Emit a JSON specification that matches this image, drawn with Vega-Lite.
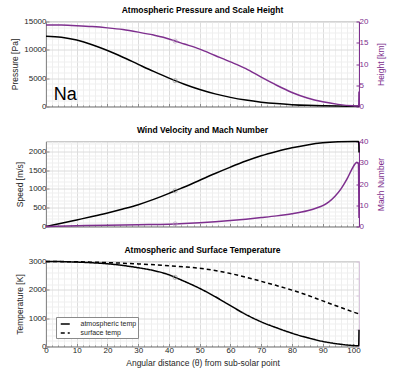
{
  "$schema": "https://vega.github.io/schema/vega-lite/v6.json",
  "padding": {"left": 10, "top": 5.5, "right": 5, "bottom": 5},
  "bounds": "flush",
  "spacing": 35,
  "resolve": {"scale": {"strokeDash": "independent"}, "legend": {"strokeDash": "independent"}},
  "config": {
    "font": "Liberation Sans",
    "view": {"stroke": "#a0a0a0", "strokeWidth": 0.8},
    "axis": {"labelFont": "Liberation Sans", "labelFontSize": 8, "labelColor": "#262626", "titleFont": "Liberation Sans", "titleFontSize": 8.5, "titleFontWeight": "normal", "titleColor": "#262626", "domainColor": "#8a8a8a", "tickColor": "#8a8a8a", "tickSize": -3, "labelPadding": 3, "titlePadding": 4, "labelFlush": false},
    "title": {"font": "Liberation Sans", "fontSize": 8.5, "fontWeight": "bold", "offset": 3, "color": "#000000"},
    "legend": {"labelFont": "Liberation Sans", "labelFontSize": 7, "labelColor": "#262626", "strokeColor": "#8a8a8a", "fillColor": "#ffffff", "padding": 1.5, "symbolType": "M-0.5,0H1.5", "symbolSize": 81, "symbolStrokeWidth": 1.5, "symbolStrokeColor": "#000000", "rowPadding": 0, "labelOffset": 12, "cornerRadius": 0}
  },
  "vconcat": [
    {
      "width": 313, "height": 85,
      "title": "Atmospheric Pressure and Scale Height",
      "encoding": {
        "x": {"field": "t", "type": "quantitative", "scale": {"domain": [0, 101.8], "nice": false, "zero": false},
          "axis": {"values": [0,2,4,6,8,10,12,14,16,18,20,22,24,26,28,30,32,34,36,38,40,42,44,46,48,50,52,54,56,58,60,62,64,66,68,70,72,74,76,78,80,82,84,86,88,90,92,94,96,98,100], "labels": false, "title": null, "grid": true,
            "gridColor": {"condition": {"test": "datum.value % 10 === 0", "value": "#dcdcdc"}, "value": "#efefef"},
            "tickSize": {"condition": {"test": "datum.value % 10 === 0", "value": -3}, "value": -1.5}}}
      },
      "layer": [
        {
          "data": {"values": [
            {"t": 0, "v": 12400}, {"t": 5, "v": 12230}, {"t": 10, "v": 11720}, {"t": 15, "v": 10910}, {"t": 20, "v": 9880}, {"t": 25, "v": 8700}, {"t": 30, "v": 7440}, {"t": 35, "v": 6190}, {"t": 40, "v": 5000}, {"t": 42, "v": 4560}, {"t": 45, "v": 3930}, {"t": 50, "v": 3000}, {"t": 55, "v": 2230}, {"t": 60, "v": 1610}, {"t": 65, "v": 1130}, {"t": 70, "v": 770}, {"t": 75, "v": 510}, {"t": 80, "v": 330}, {"t": 85, "v": 205}, {"t": 90, "v": 125}, {"t": 95, "v": 75}, {"t": 100, "v": 45}, {"t": 101.8, "v": 38}
          ]},
          "mark": {"type": "line", "color": "#000000", "strokeWidth": 1.5, "interpolate": "monotone"},
          "encoding": {"y": {"field": "v", "type": "quantitative", "scale": {"domain": [0, 15000], "nice": false},
            "axis": {"orient": "left", "title": "Pressure [Pa]", "format": "d", "values": [0,1000,2000,3000,4000,5000,6000,7000,8000,9000,10000,11000,12000,13000,14000,15000], "grid": true,
              "labelExpr": "datum.value % 5000 === 0 ? datum.label : ''",
              "gridColor": {"condition": {"test": "datum.value % 5000 === 0", "value": "#dcdcdc"}, "value": "#efefef"},
              "tickOpacity": {"condition": {"test": "datum.value % 5000 === 0", "value": 1}, "value": 0}}}}
        },
        {
          "data": {"values": [{"t": 42, "v": 4560}]},
          "mark": {"type": "point", "shape": "circle", "filled": false, "stroke": "#9a9a9a", "strokeWidth": 1, "size": 18},
          "encoding": {"y": {"field": "v", "type": "quantitative", "scale": {"domain": [0, 15000], "nice": false}, "axis": null}}
        },
        {
          "data": {"values": [
            {"t": 0, "v": 19.2}, {"t": 5, "v": 19.15}, {"t": 10, "v": 19.0}, {"t": 15, "v": 18.8}, {"t": 20, "v": 18.5}, {"t": 25, "v": 18.1}, {"t": 30, "v": 17.5}, {"t": 35, "v": 16.8}, {"t": 40, "v": 15.9}, {"t": 42, "v": 15.4}, {"t": 45, "v": 14.7}, {"t": 50, "v": 13.5}, {"t": 55, "v": 12.0}, {"t": 60, "v": 10.5}, {"t": 65, "v": 8.9}, {"t": 70, "v": 6.9}, {"t": 75, "v": 5.0}, {"t": 80, "v": 3.3}, {"t": 85, "v": 2.0}, {"t": 90, "v": 1.1}, {"t": 95, "v": 0.5}, {"t": 100, "v": 0.15}, {"t": 101.7, "v": 0.1}, {"t": 101.8, "v": 3.5}
          ]},
          "mark": {"type": "line", "color": "#7E2F8E", "strokeWidth": 1.5, "interpolate": "monotone"},
          "encoding": {"y": {"field": "v", "type": "quantitative", "scale": {"domain": [0, 20], "nice": false},
            "axis": {"orient": "right", "title": "Height [km]", "values": [0, 5, 10, 15, 20], "grid": false, "labelColor": "#7E2F8E", "titleColor": "#7E2F8E", "domainColor": "#7E2F8E", "tickColor": "#7E2F8E", "titleAngle": -90, "titleBaseline": "top", "titlePadding": 9}}}
        },
        {
          "data": {"values": [{"t": 42, "v": 15.4}]},
          "mark": {"type": "point", "shape": "circle", "filled": false, "stroke": "#b8a0be", "strokeWidth": 1, "size": 18},
          "encoding": {"y": {"field": "v", "type": "quantitative", "scale": {"domain": [0, 20], "nice": false}, "axis": null}}
        },
        {
          "data": {"values": [{"t": 2.5, "v": 1100, "label": "Na"}]},
          "mark": {"type": "text", "font": "Liberation Sans", "fontSize": 18, "align": "left", "baseline": "alphabetic", "color": "#000000"},
          "encoding": {"y": {"field": "v", "type": "quantitative", "scale": {"domain": [0, 15000], "nice": false}, "axis": null}, "text": {"field": "label"}}
        }
      ],
      "resolve": {"scale": {"y": "independent"}, "axis": {"y": "independent"}}
    },
    {
      "width": 313, "height": 85,
      "title": "Wind Velocity and Mach Number",
      "encoding": {
        "x": {"field": "t", "type": "quantitative", "scale": {"domain": [0, 101.8], "nice": false, "zero": false},
          "axis": {"values": [0,2,4,6,8,10,12,14,16,18,20,22,24,26,28,30,32,34,36,38,40,42,44,46,48,50,52,54,56,58,60,62,64,66,68,70,72,74,76,78,80,82,84,86,88,90,92,94,96,98,100], "labels": false, "title": null, "grid": true,
            "gridColor": {"condition": {"test": "datum.value % 10 === 0", "value": "#dcdcdc"}, "value": "#efefef"},
            "tickSize": {"condition": {"test": "datum.value % 10 === 0", "value": -3}, "value": -1.5}}}
      },
      "layer": [
        {
          "data": {"values": [
            {"t": 0, "v": 0}, {"t": 5, "v": 85}, {"t": 10, "v": 175}, {"t": 15, "v": 265}, {"t": 20, "v": 360}, {"t": 25, "v": 465}, {"t": 30, "v": 580}, {"t": 35, "v": 720}, {"t": 40, "v": 880}, {"t": 42, "v": 950}, {"t": 45, "v": 1050}, {"t": 50, "v": 1230}, {"t": 55, "v": 1410}, {"t": 60, "v": 1580}, {"t": 65, "v": 1740}, {"t": 70, "v": 1880}, {"t": 75, "v": 1995}, {"t": 80, "v": 2095}, {"t": 85, "v": 2170}, {"t": 90, "v": 2225}, {"t": 95, "v": 2252}, {"t": 100, "v": 2260}, {"t": 101.7, "v": 2260}, {"t": 101.8, "v": 1970}
          ]},
          "mark": {"type": "line", "color": "#000000", "strokeWidth": 1.5, "interpolate": "monotone"},
          "encoding": {"y": {"field": "v", "type": "quantitative", "scale": {"domain": [0, 2260], "nice": false},
            "axis": {"orient": "left", "title": "Speed [m/s]", "format": "d", "values": [0,100,200,300,400,500,600,700,800,900,1000,1100,1200,1300,1400,1500,1600,1700,1800,1900,2000,2100,2200], "grid": true,
              "labelExpr": "datum.value % 500 === 0 ? datum.label : ''",
              "gridColor": {"condition": {"test": "datum.value % 500 === 0", "value": "#dcdcdc"}, "value": "#efefef"},
              "tickOpacity": {"condition": {"test": "datum.value % 500 === 0", "value": 1}, "value": 0}}}}
        },
        {
          "data": {"values": [{"t": 42, "v": 950}]},
          "mark": {"type": "point", "shape": "circle", "filled": false, "stroke": "#9a9a9a", "strokeWidth": 1, "size": 18},
          "encoding": {"y": {"field": "v", "type": "quantitative", "scale": {"domain": [0, 2260], "nice": false}, "axis": null}}
        },
        {
          "data": {"values": [
            {"t": 0, "v": 0}, {"t": 10, "v": 0.35}, {"t": 20, "v": 0.6}, {"t": 30, "v": 0.85}, {"t": 40, "v": 1.1}, {"t": 42, "v": 1.2}, {"t": 45, "v": 1.4}, {"t": 50, "v": 1.8}, {"t": 55, "v": 2.25}, {"t": 60, "v": 2.8}, {"t": 65, "v": 3.45}, {"t": 70, "v": 4.2}, {"t": 75, "v": 5.0}, {"t": 80, "v": 6.0}, {"t": 85, "v": 7.4}, {"t": 88, "v": 8.7}, {"t": 90, "v": 9.8}, {"t": 92, "v": 11.6}, {"t": 94, "v": 14.2}, {"t": 96, "v": 17.8}, {"t": 98, "v": 22.6}, {"t": 99.5, "v": 27.0}, {"t": 100.5, "v": 29.4}, {"t": 101.1, "v": 30.2}, {"t": 101.6, "v": 29.6}, {"t": 101.8, "v": 4}
          ]},
          "mark": {"type": "line", "color": "#7E2F8E", "strokeWidth": 1.5, "interpolate": "monotone"},
          "encoding": {"y": {"field": "v", "type": "quantitative", "scale": {"domain": [0, 40], "nice": false},
            "axis": {"orient": "right", "title": "Mach Number", "values": [0, 10, 20, 30, 40], "grid": false, "labelColor": "#7E2F8E", "titleColor": "#7E2F8E", "domainColor": "#7E2F8E", "tickColor": "#7E2F8E", "titleAngle": -90, "titleBaseline": "top", "titlePadding": 9}}}
        },
        {
          "data": {"values": [{"t": 42, "v": 1.2}]},
          "mark": {"type": "point", "shape": "circle", "filled": false, "stroke": "#b8a0be", "strokeWidth": 1, "size": 18},
          "encoding": {"y": {"field": "v", "type": "quantitative", "scale": {"domain": [0, 40], "nice": false}, "axis": null}}
        }
      ],
      "resolve": {"scale": {"y": "independent"}, "axis": {"y": "independent"}}
    },
    {
      "width": 313, "height": 85,
      "title": "Atmospheric and Surface Temperature",
      "encoding": {
        "x": {"field": "t", "type": "quantitative", "scale": {"domain": [0, 101.8], "nice": false, "zero": false},
          "axis": {"values": [0,2,4,6,8,10,12,14,16,18,20,22,24,26,28,30,32,34,36,38,40,42,44,46,48,50,52,54,56,58,60,62,64,66,68,70,72,74,76,78,80,82,84,86,88,90,92,94,96,98,100], "title": "Angular distance (θ) from sub-solar point", "grid": true,
            "labelExpr": "datum.value % 10 === 0 ? datum.label : ''",
            "gridColor": {"condition": {"test": "datum.value % 10 === 0", "value": "#dcdcdc"}, "value": "#efefef"},
            "tickSize": {"condition": {"test": "datum.value % 10 === 0", "value": -3}, "value": -1.5}}}
      },
      "layer": [
        {
          "data": {"values": [
            {"t": 0, "v": 3000, "s": "atmospheric temp"}, {"t": 5, "v": 2995, "s": "atmospheric temp"}, {"t": 10, "v": 2980, "s": "atmospheric temp"}, {"t": 15, "v": 2955, "s": "atmospheric temp"}, {"t": 20, "v": 2920, "s": "atmospheric temp"}, {"t": 25, "v": 2860, "s": "atmospheric temp"}, {"t": 30, "v": 2780, "s": "atmospheric temp"}, {"t": 35, "v": 2680, "s": "atmospheric temp"}, {"t": 40, "v": 2530, "s": "atmospheric temp"}, {"t": 42, "v": 2440, "s": "atmospheric temp"}, {"t": 45, "v": 2300, "s": "atmospheric temp"}, {"t": 50, "v": 2050, "s": "atmospheric temp"}, {"t": 55, "v": 1760, "s": "atmospheric temp"}, {"t": 60, "v": 1440, "s": "atmospheric temp"}, {"t": 65, "v": 1130, "s": "atmospheric temp"}, {"t": 70, "v": 870, "s": "atmospheric temp"}, {"t": 75, "v": 660, "s": "atmospheric temp"}, {"t": 80, "v": 470, "s": "atmospheric temp"}, {"t": 85, "v": 310, "s": "atmospheric temp"}, {"t": 90, "v": 180, "s": "atmospheric temp"}, {"t": 95, "v": 90, "s": "atmospheric temp"}, {"t": 100, "v": 35, "s": "atmospheric temp"}, {"t": 101.7, "v": 25, "s": "atmospheric temp"}, {"t": 101.8, "v": 590, "s": "atmospheric temp"},
            {"t": 0, "v": 3000, "s": "surface temp"}, {"t": 10, "v": 2990, "s": "surface temp"}, {"t": 20, "v": 2960, "s": "surface temp"}, {"t": 30, "v": 2915, "s": "surface temp"}, {"t": 40, "v": 2850, "s": "surface temp"}, {"t": 45, "v": 2810, "s": "surface temp"}, {"t": 50, "v": 2760, "s": "surface temp"}, {"t": 55, "v": 2680, "s": "surface temp"}, {"t": 60, "v": 2575, "s": "surface temp"}, {"t": 65, "v": 2445, "s": "surface temp"}, {"t": 70, "v": 2300, "s": "surface temp"}, {"t": 75, "v": 2150, "s": "surface temp"}, {"t": 80, "v": 1990, "s": "surface temp"}, {"t": 85, "v": 1810, "s": "surface temp"}, {"t": 90, "v": 1610, "s": "surface temp"}, {"t": 95, "v": 1410, "s": "surface temp"}, {"t": 100, "v": 1215, "s": "surface temp"}, {"t": 101.8, "v": 1150, "s": "surface temp"}
          ]},
          "mark": {"type": "line", "color": "#000000", "strokeWidth": 1.5, "interpolate": "monotone"},
          "encoding": {
            "y": {"field": "v", "type": "quantitative", "scale": {"domain": [0, 3000], "nice": false},
              "axis": {"orient": "left", "title": "Temperature [K]", "format": "d", "values": [0,200,400,600,800,1000,1200,1400,1600,1800,2000,2200,2400,2600,2800,3000], "grid": true,
                "labelExpr": "datum.value % 1000 === 0 ? datum.label : ''",
                "gridColor": {"condition": {"test": "datum.value % 1000 === 0", "value": "#dcdcdc"}, "value": "#efefef"},
                "tickOpacity": {"condition": {"test": "datum.value % 1000 === 0", "value": 1}, "value": 0}}},
            "strokeDash": {"field": "s", "type": "nominal", "scale": {"domain": ["atmospheric temp", "surface temp"], "range": [[1, 0], [4, 3]]},
              "legend": {"title": null, "orient": "none", "legendX": 10, "legendY": 55.5}}
          }
        },
        {
          "data": {"values": [{"t": 42, "v": 2440}]},
          "mark": {"type": "point", "shape": "circle", "filled": false, "stroke": "#9a9a9a", "strokeWidth": 1, "size": 18},
          "encoding": {"y": {"field": "v", "type": "quantitative", "scale": {"domain": [0, 3000], "nice": false},
            "axis": {"orient": "right", "title": null, "labels": false, "values": [0, 600, 1200, 1800, 2400, 3000], "grid": false, "domainColor": "#d9c6dd", "tickColor": "#d9c6dd"}}}
        }
      ],
      "resolve": {"scale": {"y": "independent"}, "axis": {"y": "independent"}}
    }
  ]
}
